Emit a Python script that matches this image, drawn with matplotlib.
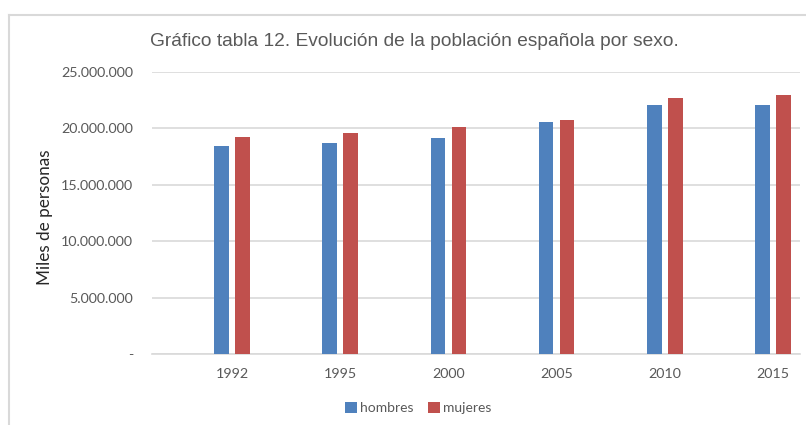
import matplotlib
matplotlib.use("Agg")
import matplotlib.pyplot as plt
from matplotlib.lines import Line2D
import numpy as np

years = ["1992", "1995", "2000", "2005", "2010", "2015"]
hombres = [18.46e6, 18.73e6, 19.17e6, 20.58e6, 22.12e6, 22.12e6]
mujeres = [19.26e6, 19.64e6, 20.09e6, 20.71e6, 22.68e6, 22.92e6]
yticks = [0, 5e6, 10e6, 15e6, 20e6, 25e6]
ytick_labels = ["-", "5.000.000", "10.000.000", "15.000.000", "20.000.000", "25.000.000"]

W, H = 806, 425
fig = plt.figure(figsize=(W / 100, H / 100), dpi=100)
fig.patch.set_facecolor("white")

# chart border (cropped on right and bottom)
fig.add_artist(Line2D([8.5 / W, 1.0], [1 - 15 / H, 1 - 15 / H], transform=fig.transFigure,
                      color="#D9D9D9", lw=1.5))
fig.add_artist(Line2D([8.5 / W, 8.5 / W], [1 - 15 / H, 0], transform=fig.transFigure,
                      color="#D9D9D9", lw=1.5))

left, right, top, bottom = 152, 800, 72, 354.3
ax = fig.add_axes([left / W, 1 - bottom / H, (right - left) / W, (bottom - top) / H])

x = np.arange(len(years))
bw = 0.135
off = 0.097
ax.bar(x - off, hombres, width=bw, color="#4F81BD", label="hombres", zorder=3)
ax.bar(x + off, mujeres, width=bw, color="#C0504D", label="mujeres", zorder=3)

sp = 108.2
x0 = 232.0
ax.set_xlim(-(x0 - left) / sp, (right - x0) / sp)
ax.set_ylim(0, 25e6)

ax.set_yticks(yticks)
ax.set_yticklabels(ytick_labels)
ax.set_xticks(x)
ax.set_xticklabels(years)
ax.tick_params(axis="both", length=0, labelcolor="#595959", labelsize=10.3)
ax.tick_params(axis="y", pad=13.5)
ax.tick_params(axis="x", pad=10)
for lab in ax.get_xticklabels() + ax.get_yticklabels():
    lab.set_fontfamily("Lato")

ax.grid(axis="y", color="#D9D9D9", lw=1.2, zorder=0)
for s in ["top", "right", "left"]:
    ax.spines[s].set_visible(False)
ax.spines["bottom"].set_color("#D9D9D9")
ax.spines["bottom"].set_linewidth(1.2)

fig.text(45 / W, 1 - 217 / H, "Miles de personas", rotation=90, ha="center", va="center",
         fontfamily="Lato", fontsize=12.3, color="#262626")

fig.text(414 / W, 1 - 42 / H, "Gráfico tabla 12. Evolución de la población española por sexo.",
         ha="center", va="center", fontfamily="Liberation Sans", fontsize=13.8, color="#595959")

leg = fig.legend(loc="center", bbox_to_anchor=(418 / W, 1 - 408 / H), ncol=2, frameon=False,
                 prop={"family": "Lato", "size": 10}, handlelength=0.9, handleheight=0.9,
                 handletextpad=0.2, columnspacing=1.0, labelcolor="#595959")

fig.savefig("out.png", dpi=100, facecolor="white")
